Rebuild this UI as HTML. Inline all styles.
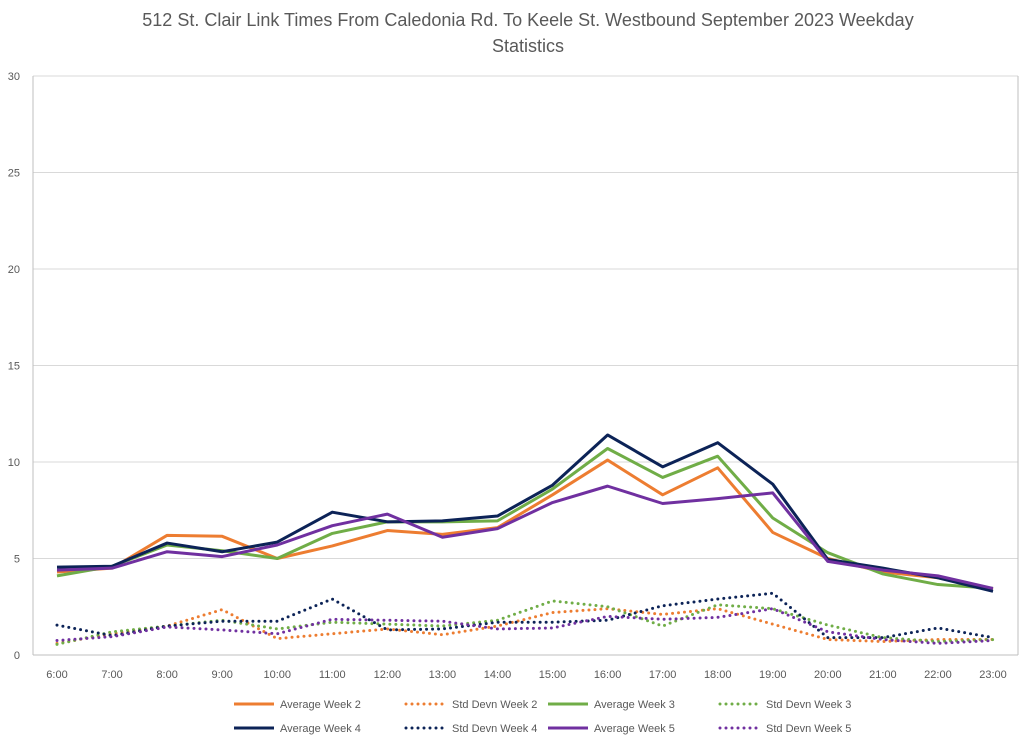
<!DOCTYPE html>
<html><head><meta charset="utf-8"><style>
body{margin:0;background:#fff;font-family:"Liberation Sans",sans-serif}
svg text{font-family:"Liberation Sans",sans-serif}
</style></head><body>
<svg id="c" width="1024" height="742">
<text x="528" y="26" text-anchor="middle" font-size="18" fill="#595959">512 St. Clair Link Times From Caledonia Rd. To Keele St. Westbound September 2023 Weekday</text>
<text x="528" y="52" text-anchor="middle" font-size="18" fill="#595959">Statistics</text>
<g id="grid"></g><g id="series"></g><g id="legend"></g>
</svg>
<script>
const categories=["6:00","7:00","8:00","9:00","10:00","11:00","12:00","13:00","14:00","15:00","16:00","17:00","18:00","19:00","20:00","21:00","22:00","23:00"];
const yTicks=[0,5,10,15,20,25,30];
const avgW2=[4.3,4.5,6.2,6.15,5.0,5.65,6.45,6.25,6.6,8.3,10.1,8.3,9.7,6.35,5.0,4.3,4.0,3.4];
const sdW2=[0.6,1.1,1.5,2.35,0.85,1.1,1.35,1.05,1.5,2.2,2.4,2.1,2.4,1.6,0.8,0.7,0.8,0.8];
const avgW3=[4.1,4.6,5.7,5.4,5.0,6.3,6.9,6.9,6.95,8.6,10.7,9.2,10.3,7.1,5.3,4.2,3.65,3.45];
const sdW3=[0.55,1.2,1.5,1.8,1.35,1.7,1.6,1.5,1.8,2.8,2.5,1.5,2.6,2.4,1.55,0.9,0.7,0.8];
const avgW4=[4.55,4.6,5.8,5.35,5.85,7.4,6.9,6.95,7.2,8.8,11.4,9.75,11.0,8.85,4.95,4.5,4.0,3.3];
const sdW4=[1.55,1.0,1.5,1.75,1.75,2.9,1.3,1.35,1.7,1.7,1.8,2.55,2.9,3.2,0.9,0.9,1.4,0.9];
const avgW5=[4.4,4.5,5.35,5.1,5.7,6.7,7.3,6.1,6.55,7.9,8.75,7.85,8.1,8.4,4.85,4.4,4.1,3.45];
const sdW5=[0.75,0.95,1.45,1.3,1.1,1.85,1.8,1.75,1.35,1.4,2.0,1.85,1.95,2.4,1.2,0.8,0.6,0.75];
const seriesNames=["Average Week 2","Std Devn Week 2","Average Week 3","Std Devn Week 3","Average Week 4","Std Devn Week 4","Average Week 5","Std Devn Week 5"];

const NS="http://www.w3.org/2000/svg";
const X0=57,X1=993,Y0=655,Y1=76,L=33,R=1018;
const x=i=>X0+i*(X1-X0)/(categories.length-1);
const y=v=>Y0-(v/30)*(Y0-Y1);
function mk(tag,attrs,parent){const e=document.createElementNS(NS,tag);for(const k in attrs)e.setAttribute(k,attrs[k]);parent.appendChild(e);return e;}
const grid=document.getElementById('grid');
yTicks.forEach(t=>{
  const l=mk('line',{x1:L,x2:R,y1:y(t),y2:y(t),stroke:t===0?'#bfbfbf':'#d9d9d9','stroke-width':1},grid);
  
  
  const tx=mk('text',{x:20,y:y(t)+4,'font-size':11,fill:'#595959','text-anchor':'end'},grid);
  tx.textContent=t;
  
  
});
const ax=mk('line',{x1:L,x2:L,y1:Y1,y2:Y0,stroke:'#bfbfbf'},grid);


const ax2=mk('line',{x1:R,x2:R,y1:Y1,y2:Y0,stroke:'#bfbfbf'},grid);


categories.forEach((c,i)=>{
  const tx=mk('text',{x:x(i),y:678,'font-size':11,fill:'#595959','text-anchor':'middle'},grid);
  tx.textContent=c;
  
  
});
const data=[avgW2,sdW2,avgW3,sdW3,avgW4,sdW4,avgW5,sdW5];
const colors=["#ed7d31","#ed7d31","#70ad47","#70ad47","#0c2357","#0c2357","#7030a0","#7030a0"];
const sg=document.getElementById('series');
data.forEach((arr,s)=>{
  const dotted=s%2===1;
  const p=mk('polyline',{points:arr.map((v,i)=>x(i)+','+y(v)).join(' '),fill:'none',stroke:colors[s],'stroke-width':3,'stroke-linejoin':'round','stroke-dasharray':dotted?'0 6':'none','stroke-linecap':dotted?'round':'butt'},sg);
  
  
});
const lg=document.getElementById('legend');
const lx=[234,406,548,720];
seriesNames.forEach((n,s)=>{
  const row=Math.floor(s/4),col=s%4,yy=704+row*24,dotted=s%2===1;
  const g=mk('g',{},lg);
  
  
  mk('line',{x1:lx[col],x2:lx[col]+40,y1:yy,y2:yy,stroke:colors[s],'stroke-width':3,'stroke-dasharray':dotted?'0 6':'none','stroke-linecap':dotted?'round':'butt'},g);
  const t=mk('text',{x:lx[col]+46,y:yy+4,'font-size':11,fill:'#595959'},g);
  t.textContent=n;
});
</script>
</body></html>
